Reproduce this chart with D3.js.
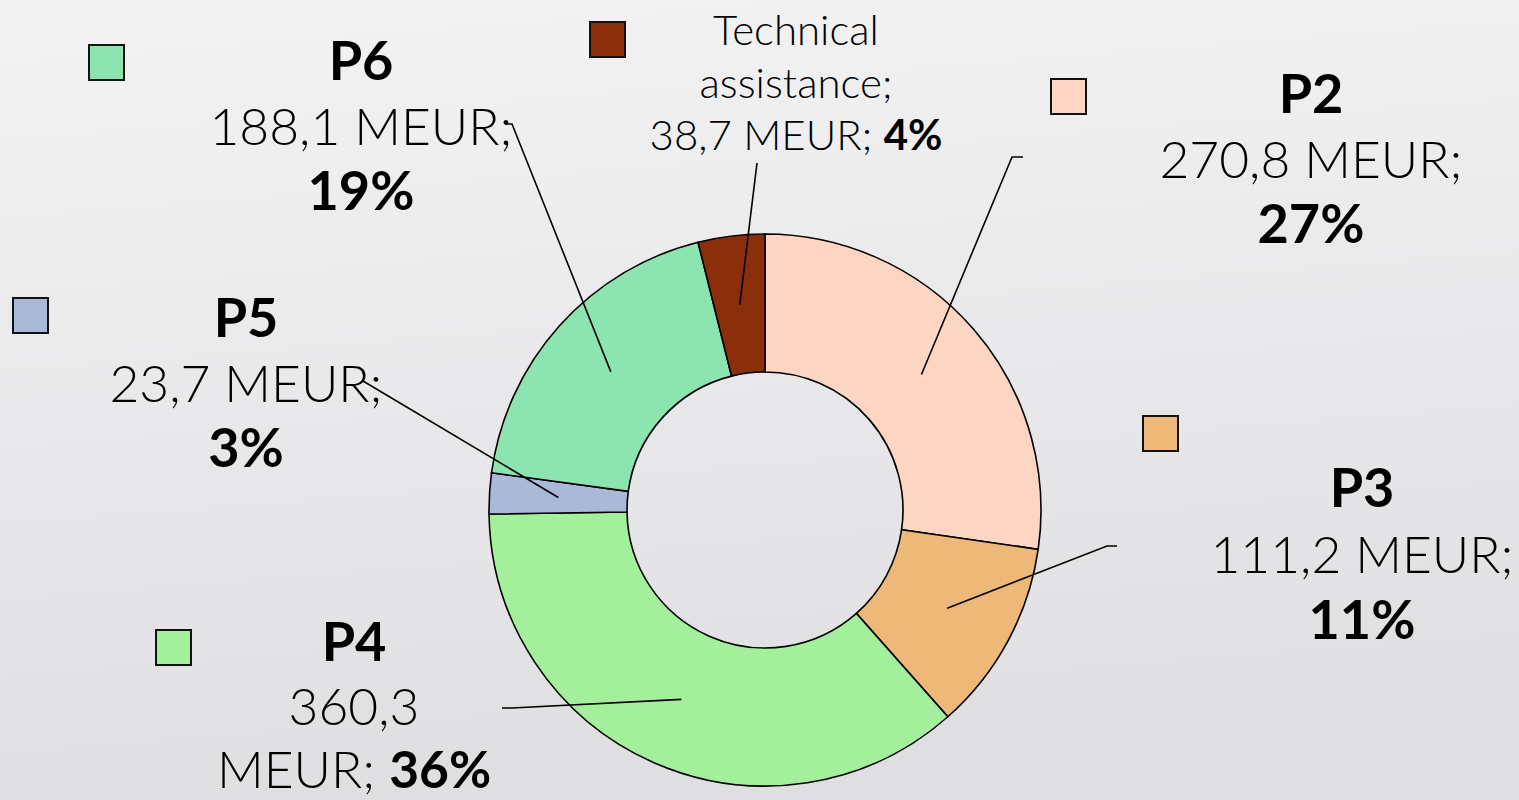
<!DOCTYPE html>
<html>
<head>
<meta charset="utf-8">
<script src="https://cdn.jsdelivr.net/npm/d3@7"></script>
<style>
  html, body { margin: 0; padding: 0; overflow: hidden; }
  svg { display: block; }
  text { font-family: Lato, "DejaVu Sans", sans-serif; fill: #000; }
</style>
</head>
<body>
<div id="chart"></div>
<script>
// data, clockwise from 12 o'clock
var categories = ['P2', 'P3', 'P4', 'P5', 'P6', 'Technical assistance'];
var amounts = [270.8, 111.2, 360.3, 23.7, 188.1, 38.7];   // MEUR
var shares = ['27%', '11%', '36%', '3%', '19%', '4%'];
var colors = ['#fcd5c3', '#edb878', '#a4ef9b', '#abb9d9', '#8ce4b0', '#8b2f0a'];

// label layout: centre x, first baseline, line height, font size, legend square, leader end
var labelLayout = [
  { cx: 1311, y: 113, lh: 65, fs: 51.5, sq: [1051, 79], end: [1012, 157], hook: 11 },
  { cx: 1362, y: 507, lh: 66, fs: 51.5, sq: [1143, 416], end: [1107, 546], hook: 10 },
  { cx: 354, y: 661, lh: 63.5, fs: 51.5, sq: [156, 630], end: [512, 708], hook: -10 },
  { cx: 246, y: 337, lh: 65, fs: 51.5, sq: [13, 298], end: [363, 381], hook: 0 },
  { cx: 361, y: 80, lh: 65, fs: 51.5, sq: [89, 45], end: [512, 124], hook: -7 },
  { cx: 796, y: 45, lh: 52.5, fs: 42, sq: [590, 22], end: [757, 163], hook: 0 }
];

var width = 1519, height = 800;
var cx = 765, cy = 510, rOuter = 276, rInner = 138;

var svg = d3.select('#chart').append('svg')
    .attr('width', width)
    .attr('height', height);

var defs = svg.append('defs');
var grad = defs.append('linearGradient')
    .attr('id', 'bg')
    .attr('x1', 0).attr('y1', 0).attr('x2', 0.15).attr('y2', 1);
grad.append('stop').attr('offset', '0%').attr('stop-color', '#f3f3f4');
grad.append('stop').attr('offset', '100%').attr('stop-color', '#dfdfe2');

svg.append('rect')
    .attr('width', width).attr('height', height)
    .attr('fill', 'url(#bg)');

var data = categories.map(function(c, i) {
  return { name: c, value: amounts[i], share: shares[i], color: colors[i], layout: labelLayout[i] };
});

var pie = d3.pie()
    .sort(null)
    .value(function(d) { return d.value; });

var arc = d3.arc()
    .innerRadius(rInner)
    .outerRadius(rOuter);

var arcs = pie(data);

var g = svg.append('g').attr('transform', 'translate(' + cx + ',' + cy + ')');

g.selectAll('path.slice')
    .data(arcs)
    .enter().append('path')
    .attr('class', 'slice')
    .attr('d', arc)
    .attr('fill', function(d) { return d.data.color; })
    .attr('stroke', '#000')
    .attr('stroke-width', 1.6);

// leader lines from slice centroid to label
svg.selectAll('polyline.leader')
    .data(arcs)
    .enter().append('polyline')
    .attr('class', 'leader')
    .attr('fill', 'none')
    .attr('stroke', '#000')
    .attr('stroke-width', 1.6)
    .attr('points', function(d) {
      var c = arc.centroid(d);
      var L = d.data.layout;
      var pts = [[cx + c[0], cy + c[1]], L.end];
      if (L.hook) pts.push([L.end[0] + L.hook, L.end[1]]);
      return pts.map(function(p) { return p.join(','); }).join(' ');
    });

// legend squares
svg.selectAll('rect.key')
    .data(data)
    .enter().append('rect')
    .attr('class', 'key')
    .attr('x', function(d) { return d.layout.sq[0]; })
    .attr('y', function(d) { return d.layout.sq[1]; })
    .attr('width', 35).attr('height', 35)
    .attr('fill', function(d) { return d.color; })
    .attr('stroke', '#111')
    .attr('stroke-width', 2);

// labels
function fmt(v) { return String(v).replace('.', ','); }

var labelLines = {
  'P2': function(d) { return [[{ t: 'P2', b: true }], [{ t: fmt(d.value) + ' MEUR;' }], [{ t: d.share, b: true }]]; },
  'P3': function(d) { return [[{ t: 'P3', b: true }], [{ t: fmt(d.value) + ' MEUR;' }], [{ t: d.share, b: true }]]; },
  'P4': function(d) { return [[{ t: 'P4', b: true }], [{ t: fmt(d.value) }], [{ t: 'MEUR; ' }, { t: d.share, b: true }]]; },
  'P5': function(d) { return [[{ t: 'P5', b: true }], [{ t: fmt(d.value) + ' MEUR;' }], [{ t: d.share, b: true }]]; },
  'P6': function(d) { return [[{ t: 'P6', b: true }], [{ t: fmt(d.value) + ' MEUR;' }], [{ t: d.share, b: true }]]; },
  'Technical assistance': function(d) { return [[{ t: 'Technical' }], [{ t: 'assistance;' }], [{ t: fmt(d.value) + ' MEUR; ' }, { t: d.share, b: true }]]; }
};

data.forEach(function(d) {
  var L = d.layout;
  var lines = labelLines[d.name](d);
  lines.forEach(function(parts, i) {
    var allBold = parts.every(function(p) { return p.b; });
    var t = svg.append('text')
        .attr('x', L.cx)
        .attr('y', L.y + i * L.lh)
        .attr('text-anchor', 'middle')
        .style('font-size', (allBold && L.fs > 50 ? 54 : L.fs) + 'px');
    parts.forEach(function(p) {
      t.append('tspan')
        .attr('font-weight', p.b ? 700 : 300)
        .attr('xml:space', 'preserve')
        .text(p.t);
    });
  });
});
</script>
</body>
</html>
